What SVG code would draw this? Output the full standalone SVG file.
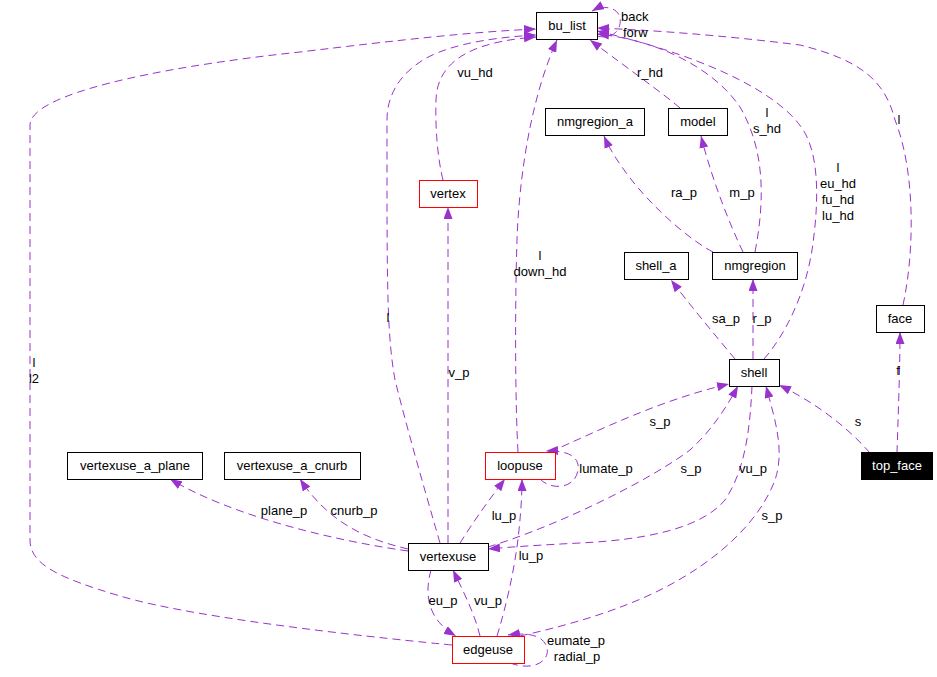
<svg xmlns="http://www.w3.org/2000/svg" width="937" height="677" viewBox="0 0 937 677">
<defs>
<marker id="a" markerUnits="userSpaceOnUse" markerWidth="12" markerHeight="9" refX="12" refY="4.5" orient="auto"><path d="M0,0 L12,4.5 L0,9 z" fill="#9a32cd"/></marker>
<style>
text{font-family:"Liberation Sans",Arial,Helvetica,sans-serif;font-size:13px;fill:#000}
.e{fill:none;stroke:#9a32cd;stroke-width:1;stroke-dasharray:8,5;marker-end:url(#a)}
.l{text-anchor:middle}
.n rect{fill:#fff;stroke:#000;stroke-width:1}
.r rect{stroke:#ff0000}
.n text{text-anchor:middle}
</style>
</defs>
<rect width="937" height="677" fill="#fff"/>
<g id="connectors">
<path class="e" d="M452,645 C400,640 200,620 120,596 C60,578 30,565 30,540 L30,125 C30,95 150,68 300,52 C400,40 470,32 536,29"/>
<path class="e" d="M440,543 C432,515 410,440 395,380 C388,340 387,300 387,180 L387,120 C387,95 400,75 420,62 C440,48 480,38 536,35"/>
<path class="e" d="M443,180 C438,160 435,130 436,100 C437,65 465,42 536,37"/>
<path class="e" d="M518,452 C515,400 515,300 517,240 C519,180 530,100 557,40"/>
<path class="e" d="M680,108 C665,95 630,70 590,40"/>
<path class="e" d="M755,252 C765,200 765,150 740,107 C715,70 660,40 597,34"/>
<path class="e" d="M764,359 C785,335 805,295 812,250 C818,210 820,165 807,137 C790,100 720,60 597,31"/>
<path class="e" d="M903,305 C915,250 915,170 895,120 C885,80 860,60 800,45 C720,35 650,30 597,28"/>
<path class="e" d="M597,36 C612,40 622,30 620,18 C618,8 605,4 592,11"/>
<path class="e" d="M713,252 C690,240 655,210 630,178 C618,162 610,150 604,136"/>
<path class="e" d="M743,252 C730,225 712,180 701,136"/>
<path class="e" d="M735,359 C715,335 690,305 671,280"/>
<path class="e" d="M753,359 L753,279"/>
<path class="e" d="M897,453 C898,420 900,370 900,332"/>
<path class="e" d="M870,453 C850,430 820,405 779,385"/>
<path class="e" d="M550,452 C600,430 660,400 729,384"/>
<path class="e" d="M540,479 C550,490 575,490 578,470 C580,457 568,450 546,451"/>
<path class="e" d="M488,547 C560,525 650,480 690,450 C710,432 725,410 738,386"/>
<path class="e" d="M752,386 C750,430 745,470 725,500 C700,530 640,540 580,543 C540,545 510,547 488,549"/>
<path class="e" d="M520,636 C570,625 620,610 660,590 C720,560 760,520 775,480 C785,450 775,420 766,386"/>
<path class="e" d="M510,663 C535,672 550,660 547,648 C544,636 530,632 508,635"/>
<path class="e" d="M460,543 C470,527 485,505 505,479"/>
<path class="e" d="M497,636 C505,610 515,570 519,530 C521,510 522,495 522,479"/>
<path class="e" d="M448,543 L448,207"/>
<path class="e" d="M431,570 C424,595 428,620 456,636"/>
<path class="e" d="M480,636 C475,615 465,595 453,570"/>
<path class="e" d="M408,551 C330,540 230,515 170,479"/>
<path class="e" d="M408,549 C370,540 330,525 300,479"/>
<text x="621" y="21">back</text>
<text x="623" y="37">forw</text>
<text class="l" x="475" y="77">vu_hd</text>
<text class="l" x="650" y="77">r_hd</text>
<text class="l" x="767" y="117">l</text>
<text class="l" x="767" y="133">s_hd</text>
<text class="l" x="899" y="124">l</text>
<text class="l" x="684" y="197">ra_p</text>
<text class="l" x="742" y="197">m_p</text>
<text class="l" x="838" y="172">l</text>
<text class="l" x="838" y="188">eu_hd</text>
<text class="l" x="838" y="204">fu_hd</text>
<text class="l" x="838" y="220">lu_hd</text>
<text class="l" x="540" y="260">l</text>
<text class="l" x="540" y="276">down_hd</text>
<text class="l" x="726" y="323">sa_p</text>
<text class="l" x="762" y="323">r_p</text>
<text class="l" x="898" y="375">f</text>
<text class="l" x="388" y="322">l</text>
<text class="l" x="459" y="377">v_p</text>
<text class="l" x="34" y="367">l</text>
<text class="l" x="34" y="383">l2</text>
<text class="l" x="284" y="515">plane_p</text>
<text class="l" x="354" y="515">cnurb_p</text>
<text class="l" x="660" y="426">s_p</text>
<text class="l" x="606" y="473">lumate_p</text>
<text class="l" x="691" y="473">s_p</text>
<text class="l" x="753" y="473">vu_p</text>
<text class="l" x="858" y="426">s</text>
<text class="l" x="772" y="520">s_p</text>
<text class="l" x="504" y="520">lu_p</text>
<text class="l" x="531" y="560">lu_p</text>
<text class="l" x="443" y="605">eu_p</text>
<text class="l" x="488" y="605">vu_p</text>
<text class="l" x="576" y="645">eumate_p</text>
<text class="l" x="577" y="661">radial_p</text>
</g>
<g id="bu_list" class="n"><rect x="536.5" y="12.5" width="61" height="27"/><text x="567" y="30">bu_list</text></g>
<g id="nmgregion_a" class="n"><rect x="545.5" y="108.5" width="99" height="27"/><text x="595" y="126">nmgregion_a</text></g>
<g id="model" class="n"><rect x="668.5" y="108.5" width="59" height="27"/><text x="698" y="126">model</text></g>
<g id="vertex" class="n r"><rect x="419.5" y="180.5" width="58" height="27"/><text x="448" y="198">vertex</text></g>
<g id="shell_a" class="n"><rect x="624.5" y="252.5" width="64" height="27"/><text x="656" y="270">shell_a</text></g>
<g id="nmgregion" class="n"><rect x="712.5" y="252.5" width="85" height="27"/><text x="755" y="270">nmgregion</text></g>
<g id="face" class="n"><rect x="876.5" y="305.5" width="48" height="27"/><text x="900" y="323">face</text></g>
<g id="shell" class="n"><rect x="729.5" y="359.5" width="50" height="27"/><text x="754" y="377">shell</text></g>
<g id="top_face" class="n"><rect x="861.5" y="452.5" width="71" height="27" style="fill:#000;stroke:#000"/><text x="897" y="470" style="fill:#fff">top_face</text></g>
<g id="vertexuse_a_plane" class="n"><rect x="67.5" y="452.5" width="135" height="27"/><text x="135" y="470">vertexuse_a_plane</text></g>
<g id="vertexuse_a_cnurb" class="n"><rect x="224.5" y="452.5" width="136" height="27"/><text x="292" y="470">vertexuse_a_cnurb</text></g>
<g id="loopuse" class="n r"><rect x="485.5" y="452.5" width="70" height="27"/><text x="520" y="470">loopuse</text></g>
<g id="vertexuse" class="n"><rect x="408.5" y="543.5" width="80" height="27"/><text x="448" y="561">vertexuse</text></g>
<g id="edgeuse" class="n r"><rect x="452.5" y="636.5" width="72" height="27"/><text x="488" y="654">edgeuse</text></g>
</svg>
